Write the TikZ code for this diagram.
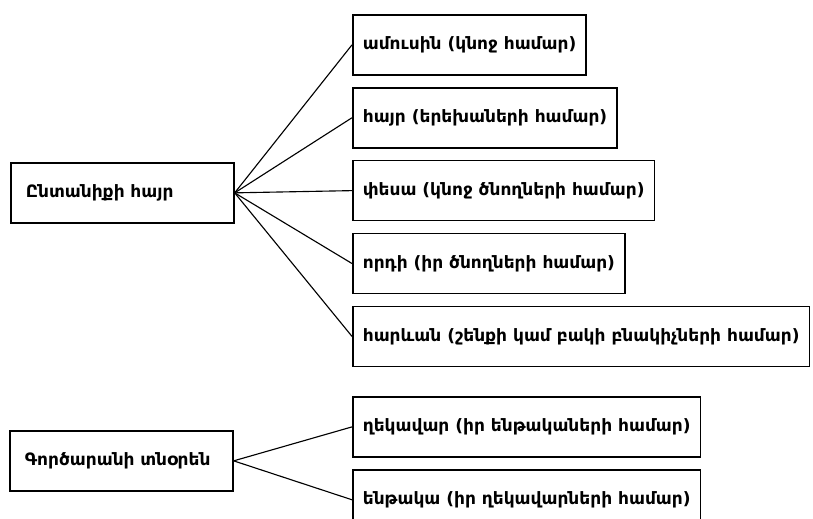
\documentclass[tikz,border=0pt]{standalone}
\usepackage{fontspec}
\setmainfont{DejaVu Sans}
\usepackage{tikz}
\usetikzlibrary{positioning}
\tikzset{
    % boxes with left-aligned text, as in the scanned chart
    rolebox/.style = {rectangle, draw, line width=1.2pt, minimum height=1.5cm, inner xsep=0.25cm, align=left, font=\bfseries\fontsize{12.1}{14}\selectfont},
    personbox/.style = {rolebox, inner xsep=0.375cm, text width=#1},
    link/.style = {line width=0.8pt}
}
\begin{document}
\begin{tikzpicture}[node distance=0.28cm]
\useasboundingbox (0,0) rectangle (20.325,-12.95);

\node[rolebox, anchor=north west] (husband) at (8.8,-0.35) {ամուսին (կնոջ համար)};
\node[rolebox, below=of husband.south west, anchor=north west] (father) {հայր (երեխաների համար)};
\node[rolebox, below=of father.south west, anchor=north west] (soninlaw) {փեսա (կնոջ ծնողների համար)};
\node[rolebox, below=of soninlaw.south west, anchor=north west] (son) {որդի (իր ծնողների համար)};
\node[rolebox, below=of son.south west, anchor=north west] (neighbour) {հարևան (շենքի կամ բակի բնակիչների համար)};
\node[rolebox, below=0.72cm of neighbour.south west, anchor=north west] (chief) {ղեկավար (իր ենթակաների համար)};
\node[rolebox, below=of chief.south west, anchor=north west] (subordinate) {ենթակա (իր ղեկավարների համար)};

\node[personbox=4.825cm, anchor=north west] (family) at (0.25,-4.05) {Ընտանիքի հայր};
\node[personbox=4.825cm, anchor=north west] (director) at (0.225,-10.75) {Գործարանի տնօրեն};

\foreach \n in {husband, father, soninlaw, son, neighbour}
    \draw[link] (family.east) -- (\n.west);
\foreach \n in {chief, subordinate}
    \draw[link] (director.east) -- (\n.west);

\end{tikzpicture}
\end{document}
